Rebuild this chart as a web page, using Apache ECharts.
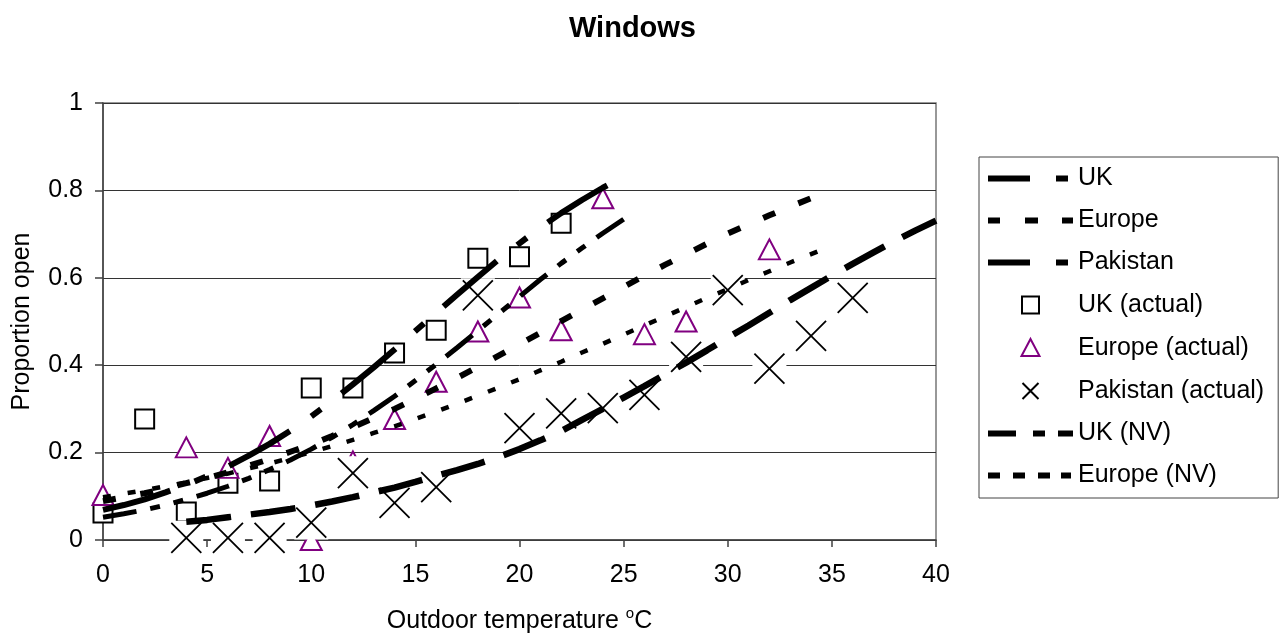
<!DOCTYPE html>
<html>
<head>
<meta charset="utf-8">
<title>Windows</title>
<script src="https://cdn.jsdelivr.net/npm/echarts@6/dist/echarts.min.js"></script>
<style>
  html, body { margin: 0; padding: 0; background: #ffffff; }
  #chart { width: 1282px; height: 641px; }
</style>
</head>
<body>
<div id="chart"></div>
<script>
// ---- Observed proportion of windows open, by outdoor temperature ----
const ukObsT = [0, 2, 4, 6, 8, 10, 12, 14, 16, 18, 20, 22];
const ukObsP = [0.062, 0.277, 0.064, 0.130, 0.135, 0.348, 0.348, 0.428, 0.480, 0.645, 0.648, 0.725];

const euObsT = [0, 4, 6, 8, 10, 12, 14, 16, 18, 20, 22, 24, 26, 28, 32];
const euObsP = [0.103, 0.212, 0.165, 0.238, 0.000, 0.180, 0.277, 0.362, 0.477, 0.555, 0.480, 0.782, 0.471, 0.500, 0.665];

const pkObsT = [4, 6, 8, 10, 12, 14, 16, 18, 20, 22, 24, 26, 28, 30, 32, 34, 36];
const pkObsP = [0.005, 0.005, 0.005, 0.040, 0.153, 0.085, 0.121, 0.560, 0.256, 0.290, 0.302, 0.332, 0.419, 0.572, 0.392, 0.467, 0.554];

// ---- Fitted curves ----
const ukFitT = [0, 1, 2, 3, 4, 5, 6, 7, 8, 9, 10, 11, 12, 13, 14, 15, 16, 17, 18, 19, 20, 21, 22, 23, 24, 25];
const ukFitP = [0.069, 0.080, 0.093, 0.109, 0.126, 0.146, 0.168, 0.193, 0.220, 0.250, 0.283, 0.318, 0.356,
                0.395, 0.436, 0.478, 0.520, 0.561, 0.602, 0.642, 0.679, 0.715, 0.748, 0.778, 0.806, 0.831];

const euFitT = [0, 1, 2, 3, 4, 5, 6, 7, 8, 9, 10, 11, 12, 13, 14, 15, 16, 17, 18, 19, 20, 21, 22, 23, 24,
                25, 26, 27, 28, 29, 30, 31, 32, 33, 34];
const euFitP = [0.089, 0.098, 0.107, 0.118, 0.130, 0.142, 0.155, 0.170, 0.185, 0.202, 0.219, 0.238, 0.258,
                0.279, 0.300, 0.323, 0.347, 0.371, 0.396, 0.422, 0.448, 0.474, 0.501, 0.527, 0.553, 0.579,
                0.605, 0.630, 0.654, 0.678, 0.701, 0.722, 0.743, 0.763, 0.782];

const pkFitT = [4, 5, 6, 7, 8, 9, 10, 11, 12, 13, 14, 15, 16, 17, 18, 19, 20, 21, 22, 23, 24, 25, 26, 27,
                28, 29, 30, 31, 32, 33, 34, 35, 36, 37, 38, 39, 40];
const pkFitP = [0.042, 0.046, 0.052, 0.058, 0.064, 0.071, 0.079, 0.088, 0.098, 0.109, 0.120, 0.133, 0.147,
                0.160, 0.174, 0.190, 0.208, 0.228, 0.249, 0.275, 0.300, 0.326, 0.352, 0.379, 0.406, 0.434,
                0.463, 0.491, 0.520, 0.549, 0.577, 0.605, 0.632, 0.658, 0.684, 0.708, 0.731];

const ukNvT = [0, 1, 2, 3, 4, 5, 6, 7, 8, 9, 10, 11, 12, 13, 14, 15, 16, 17, 18, 19, 20, 21, 22, 23, 24, 25];
const ukNvP = [0.052, 0.060, 0.069, 0.080, 0.093, 0.107, 0.123, 0.141, 0.161, 0.183, 0.208, 0.235, 0.264,
               0.296, 0.329, 0.365, 0.402, 0.440, 0.479, 0.518, 0.557, 0.596, 0.633, 0.668, 0.702, 0.734];

const euNvT = [0, 1, 2, 3, 4, 5, 6, 7, 8, 9, 10, 11, 12, 13, 14, 15, 16, 17, 18, 19, 20, 21, 22, 23, 24,
               25, 26, 27, 28, 29, 30, 31, 32, 33, 34, 35];
const euNvP = [0.098, 0.106, 0.114, 0.123, 0.132, 0.142, 0.152, 0.164, 0.175, 0.188, 0.201, 0.215, 0.229,
               0.245, 0.260, 0.277, 0.294, 0.312, 0.330, 0.349, 0.368, 0.388, 0.408, 0.429, 0.449, 0.470,
               0.491, 0.512, 0.533, 0.554, 0.574, 0.595, 0.615, 0.635, 0.654, 0.673];

// ---- Axis ranges ----
const tempRange = { min: 0, max: 40, step: 5 };
const propRange = { min: 0, max: 1, step: 0.2 };

const pairs = (xs, ys) => xs.map((x, i) => [x, ys[i]]);

const FONT = '"Liberation Sans", Arial, Helvetica, sans-serif';
const PURPLE = '#800080';

// Legend swatches: dash samples for the curves, small markers for the observations
const legendLine = (d) => 'path://M0,0M85,24' + d;
const ICON_UK = legendLine('M0,9H42V15H0ZM68,9H80V15H68Z');
const ICON_EU = legendLine('M0,9H12V15H0ZM37,9H50V15H37ZM74,9H85V15H74Z');
const ICON_PK = legendLine('M0,9H42V15H0ZM68,9H80V15H68Z');
const ICON_UKNV = legendLine('M0,9H28V15H0ZM45,9H57V15H45ZM70,9H85V15H70Z');
const ICON_EUNV = legendLine('M0,9H12V15H0ZM25,9H37V15H25ZM50,9H62V15H50ZM73,9H83V15H73Z');
const ICON_SQ = 'path://M0,0M24,24M3.5,3.5H20.5V20.5H3.5Z';
const ICON_TRI = 'path://M0,0M24,24M12,3L21,20L3,20Z';
const ICON_X = 'path://M0,0M24,24M4,4L20,20M20,4L4,20';
const lineItem = { color: '#000', borderWidth: 0, opacity: 1 };

const chart = echarts.init(document.getElementById('chart'), null, { renderer: 'canvas' });

chart.setOption({
  animation: false,
  backgroundColor: '#ffffff',
  textStyle: { fontFamily: FONT },
  title: {
    text: 'Windows',
    left: 564,
    top: 9,
    textStyle: { fontFamily: FONT, fontSize: 29, fontWeight: 'bold', color: '#000' }
  },
  grid: {
    left: 103, right: 346, top: 103, bottom: 101,
    show: true, borderColor: '#777', borderWidth: 1.5, backgroundColor: 'transparent'
  },
  legend: {
    orient: 'vertical',
    left: 979,
    top: 157,
    padding: [9, 14, 10, 9],
    itemWidth: 85,
    itemHeight: 24,
    itemGap: 17,
    selectedMode: false,
    borderColor: '#444',
    borderWidth: 1,
    textStyle: { fontFamily: FONT, fontSize: 25, color: '#000' },
    data: [
      { name: 'UK', icon: ICON_UK, itemStyle: lineItem },
      { name: 'Europe', icon: ICON_EU, itemStyle: lineItem },
      { name: 'Pakistan', icon: ICON_PK, itemStyle: lineItem },
      { name: 'UK (actual)', icon: ICON_SQ },
      { name: 'Europe (actual)', icon: ICON_TRI },
      { name: 'Pakistan (actual)', icon: ICON_X },
      { name: 'UK (NV)', icon: ICON_UKNV, itemStyle: lineItem },
      { name: 'Europe (NV)', icon: ICON_EUNV, itemStyle: lineItem }
    ]
  },
  xAxis: {
    type: 'value',
    min: tempRange.min, max: tempRange.max, interval: tempRange.step,
    name: '{t|Outdoor temperature }{s|o}{t|C}',
    nameLocation: 'middle',
    nameGap: 66,
    nameTextStyle: {
      rich: {
        t: { fontFamily: FONT, fontSize: 25, color: '#000', lineHeight: 30 },
        s: { fontFamily: FONT, fontSize: 15, color: '#000', lineHeight: 15, verticalAlign: 'top' }
      }
    },
    axisLine: { show: true, onZero: false, lineStyle: { color: '#404040', width: 1.5 } },
    axisTick: { show: true, inside: false, length: 7, lineStyle: { color: '#404040', width: 1.5 } },
    axisLabel: { margin: 23, fontFamily: FONT, fontSize: 25, color: '#000' },
    splitLine: { show: false }
  },
  yAxis: {
    type: 'value',
    min: propRange.min, max: propRange.max, interval: propRange.step,
    name: 'Proportion open',
    nameLocation: 'middle',
    nameGap: 68,
    nameTextStyle: { fontFamily: FONT, fontSize: 25, color: '#000' },
    axisLine: { show: true, onZero: false, lineStyle: { color: '#404040', width: 1.5 } },
    axisTick: { show: true, inside: false, length: 8, lineStyle: { color: '#404040', width: 1.5 } },
    axisLabel: { margin: 20, fontFamily: FONT, fontSize: 25, color: '#000' },
    splitLine: { show: true, lineStyle: { color: '#333', width: 1 } }
  },
  series: [
    {
      name: 'UK (actual)', type: 'scatter', data: pairs(ukObsT, ukObsP),
      symbol: 'rect', symbolSize: 19,
      itemStyle: { color: '#fff', borderColor: '#000', borderWidth: 2, opacity: 1 }
    },
    {
      name: 'Europe (actual)', type: 'scatter', data: pairs(euObsT, euObsP),
      symbol: 'triangle', symbolSize: [21, 20],
      itemStyle: { color: '#fff', borderColor: PURPLE, borderWidth: 2, opacity: 1 }
    },
    {
      name: 'UK', type: 'line', data: pairs(ukFitT, ukFitP), symbol: 'none',
      itemStyle: { color: '#000' },
      lineStyle: { color: '#000', width: 6, type: [70, 26, 12, 26] }
    },
    {
      name: 'Europe', type: 'line', data: pairs(euFitT, euFitP), symbol: 'none',
      itemStyle: { color: '#000' },
      lineStyle: { color: '#000', width: 6, type: [13, 25] }
    },
    {
      name: 'UK (NV)', type: 'line', data: pairs(ukNvT, ukNvP), symbol: 'none',
      itemStyle: { color: '#000' },
      lineStyle: { color: '#000', width: 5, type: [34, 14, 10, 14, 10, 14] }
    },
    {
      name: 'Pakistan', type: 'line', data: pairs(pkFitT, pkFitP), symbol: 'none',
      itemStyle: { color: '#000' },
      lineStyle: { color: '#000', width: 6.5, type: [45, 20] }
    },
    {
      name: 'Europe (NV)', type: 'line', data: pairs(euNvT, euNvP), symbol: 'none',
      itemStyle: { color: '#000' },
      lineStyle: { color: '#000', width: 4.5, type: [8, 17] }
    },
    {
      // white backing behind the cross markers
      name: 'Pakistan (actual) backing', type: 'scatter', data: pairs(pkObsT, pkObsP),
      symbol: 'rect', symbolSize: 34, silent: true,
      itemStyle: { color: '#fff', borderWidth: 0, opacity: 1 }
    },
    {
      name: 'Pakistan (actual)', type: 'scatter', data: pairs(pkObsT, pkObsP),
      symbol: 'path://M0,0L10,10M10,0L0,10', symbolSize: 30,
      itemStyle: { color: '#fff', borderColor: '#000', borderWidth: 1.8, opacity: 1 }
    }
  ]
});
</script>
</body>
</html>
